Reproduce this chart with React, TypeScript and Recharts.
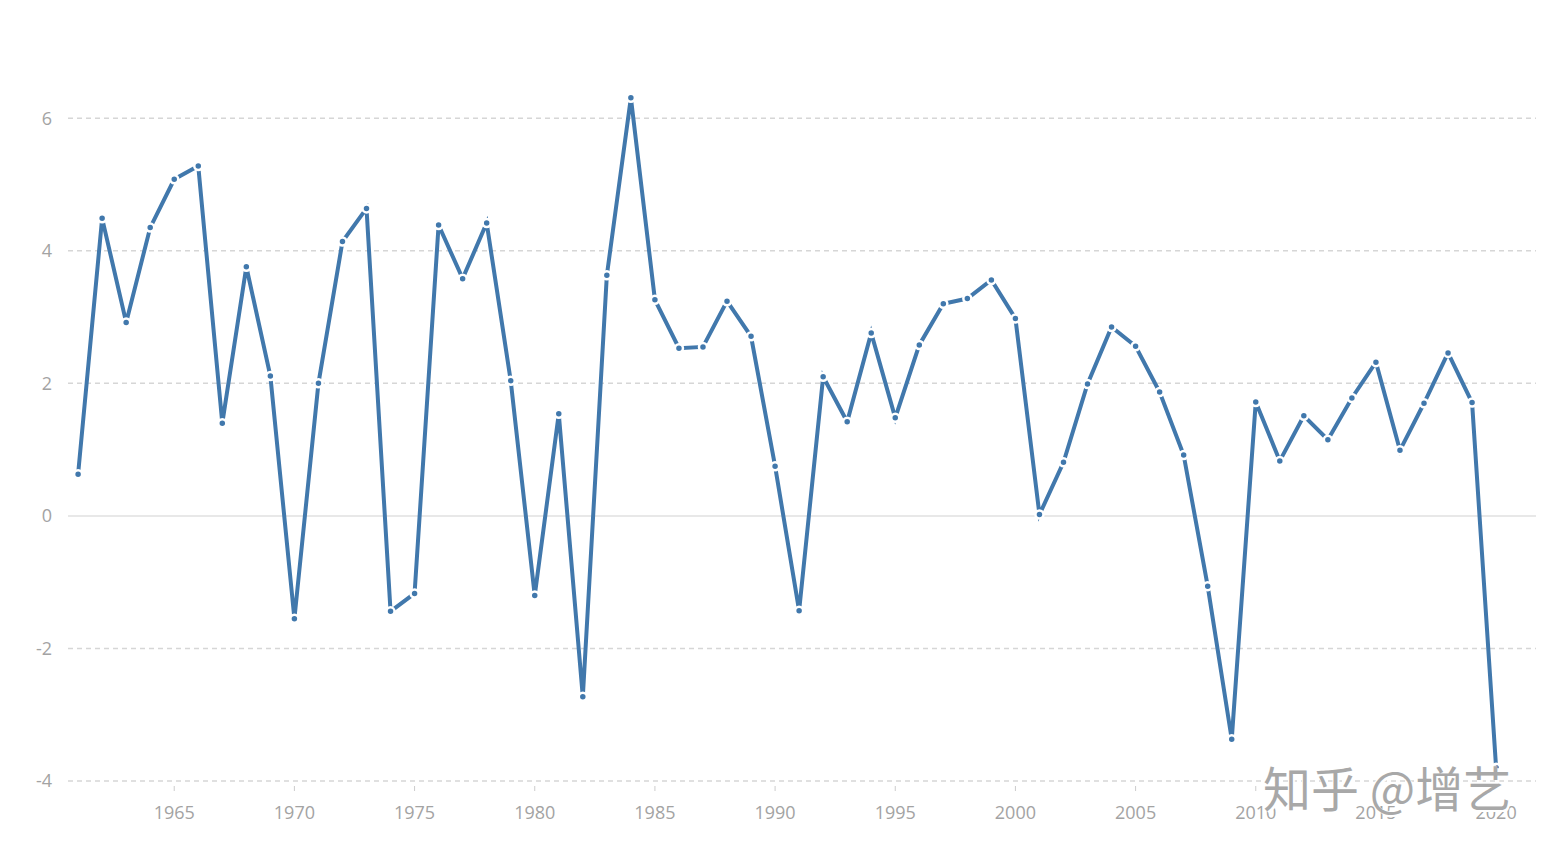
import { LineChart, Line, XAxis, YAxis, CartesianGrid, ReferenceLine } from 'recharts';

const years = [
  1961, 1962, 1963, 1964, 1965, 1966, 1967, 1968, 1969, 1970,
  1971, 1972, 1973, 1974, 1975, 1976, 1977, 1978, 1979, 1980,
  1981, 1982, 1983, 1984, 1985, 1986, 1987, 1988, 1989, 1990,
  1991, 1992, 1993, 1994, 1995, 1996, 1997, 1998, 1999, 2000,
  2001, 2002, 2003, 2004, 2005, 2006, 2007, 2008, 2009, 2010,
  2011, 2012, 2013, 2014, 2015, 2016, 2017, 2018, 2019, 2020,
];

const growth = [
  0.63, 4.49, 2.92, 4.35, 5.08, 5.28, 1.40, 3.76, 2.11, -1.55,
  2.00, 4.14, 4.64, -1.44, -1.17, 4.39, 3.58, 4.42, 2.04, -1.20,
  1.54, -2.73, 3.63, 6.31, 3.26, 2.53, 2.55, 3.24, 2.71, 0.75,
  -1.43, 2.10, 1.42, 2.76, 1.48, 2.58, 3.20, 3.28, 3.56, 2.98,
  0.02, 0.81, 1.99, 2.85, 2.56, 1.87, 0.92, -1.06, -3.37, 1.72,
  0.83, 1.51, 1.15, 1.78, 2.32, 0.99, 1.70, 2.46, 1.71, -3.80,
];

const xTicks = [1965, 1970, 1975, 1980, 1985, 1990, 1995, 2000, 2005, 2010, 2015, 2020];
const yTicks = [-4, -2, 0, 2, 4, 6];
// dashed grid everywhere except zero, which gets a solid line
const dashedRows = [-4, -2, 2, 4, 6];

const data = years.map((year, i) => ({ year, value: growth[i] }));

const FONT = '"Open Sans", "Noto Sans", sans-serif';
const BLUE = '#4178ac';

function YearTick(props: any) {
  const { x, y, payload } = props;
  return (
    <g>
      <line x1={x} x2={x} y1={y + 5} y2={y + 10} stroke="#cccccc" strokeWidth={1} />
      <text x={x} y={y + 38} textAnchor="middle" fill="#a3a3a3" fontSize={18} fontFamily={FONT}>
        {payload.value}
      </text>
    </g>
  );
}

export default function App() {
  return (
    <div style={{ position: 'absolute', left: 0, top: 0, width: 1550, height: 850, background: '#fff' }}>
      <LineChart
        width={1550}
        height={850}
        data={data}
        margin={{ top: 52, right: 14, bottom: 29, left: 8 }}
      >
        <CartesianGrid
          vertical={false}
          horizontalValues={dashedRows}
          stroke="#d6d6d6"
          strokeWidth={1.5}
          strokeDasharray="5 4"
        />
        <ReferenceLine y={0} stroke="#e0e0e0" strokeWidth={1.5} />
        <XAxis
          dataKey="year"
          type="number"
          domain={[1960.58, 2021.66]}
          ticks={xTicks}
          axisLine={false}
          tickLine={false}
          tickSize={0}
          tickMargin={0}
          height={40}
          tick={<YearTick />}
          interval={0}
        />
        <YAxis
          domain={[-4, 7]}
          ticks={yTicks}
          axisLine={false}
          tickLine={false}
          tickSize={0}
          tickMargin={16}
          width={60}
          tick={{ fill: '#a3a3a3', fontSize: 18, fontFamily: FONT }}
        />
        <Line
          type="linear"
          dataKey="value"
          stroke={BLUE}
          strokeWidth={4}
          dot={{ r: 4, fill: BLUE, stroke: '#ffffff', strokeWidth: 2.5 }}
          isAnimationActive={false}
        />
      </LineChart>
      <div
        style={{
          position: 'absolute',
          left: 1263,
          top: 762,
          fontSize: 48,
          lineHeight: 1,
          color: '#a8a8a8',
          fontFamily: '"Noto Sans CJK SC", sans-serif',
          textShadow: '2px 2px 0 #ffffff, -1px -1px 0 #ffffff',
          whiteSpace: 'nowrap',
          pointerEvents: 'none',
        }}
      >
        知乎 @增艺
      </div>
    </div>
  );
}
